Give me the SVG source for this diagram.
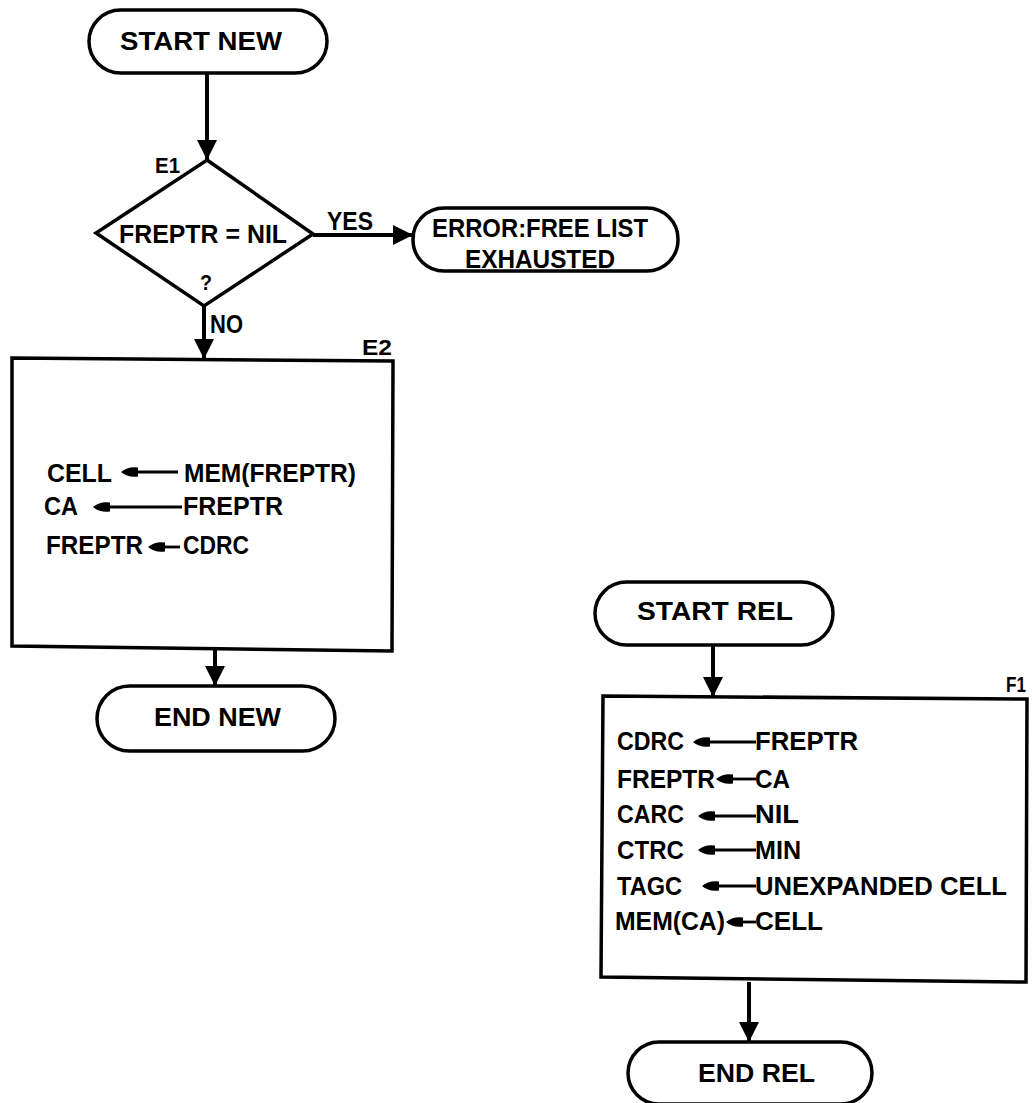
<svg xmlns="http://www.w3.org/2000/svg" width="1032" height="1103" viewBox="0 0 1032 1103">
<defs>
<style>
text{font-family:"Liberation Sans",Arial,sans-serif;font-weight:bold;font-size:25px;fill:#000}
.lbl{font-size:22px}
.shape{fill:#fff;stroke:#000;stroke-width:3.5}
.flow{stroke:#000;stroke-width:4;fill:none}
.asg{stroke:#000;stroke-width:2.8;fill:none}
.ah{fill:#000;stroke:none}
</style>
<marker id="arr" markerUnits="userSpaceOnUse" markerWidth="22" markerHeight="20" viewBox="0 0 22 20" refX="20" refY="10" orient="auto">
<path d="M0,0 L20,10 L0,20 Z" fill="#000"/>
</marker>
<path id="head" d="M0,0 Q7,-6 17,-4.5 L17,4.5 Q7,6 0,0 Z"/>
</defs>
<rect width="1032" height="1103" fill="#fff"/>
<g id="connectors">
<line class="flow" x1="207" y1="73" x2="207" y2="160" marker-end="url(#arr)"/>
<line class="flow" x1="313" y1="235" x2="413" y2="235" marker-end="url(#arr)"/>
<line class="flow" x1="204" y1="306" x2="204" y2="359" marker-end="url(#arr)"/>
<line class="flow" x1="215" y1="648" x2="215" y2="686" marker-end="url(#arr)"/>
<line class="flow" x1="713" y1="645" x2="713" y2="697" marker-end="url(#arr)"/>
<line class="flow" x1="749" y1="982" x2="749" y2="1042" marker-end="url(#arr)"/>
<text x="327" y="230" textLength="46" lengthAdjust="spacingAndGlyphs">YES</text>
<text x="210" y="333" textLength="33" lengthAdjust="spacingAndGlyphs">NO</text>
</g>
<g id="start-new">
<rect class="shape" x="89" y="10" width="238" height="63" rx="31.5"/>
<text x="120" y="50" textLength="162" lengthAdjust="spacingAndGlyphs">START NEW</text>
</g>
<g id="e1">
<polygon class="shape" points="207,160 313,234 204,306 96,233"/>
<text class="lbl" x="155" y="173" textLength="25" lengthAdjust="spacingAndGlyphs">E1</text>
<text x="119" y="243" textLength="168" lengthAdjust="spacingAndGlyphs">FREPTR = NIL</text>
<text class="lbl" x="200" y="290" textLength="12" lengthAdjust="spacingAndGlyphs">?</text>
</g>
<g id="error">
<rect class="shape" x="413" y="208" width="265" height="63" rx="31"/>
<text x="432" y="237" textLength="216" lengthAdjust="spacingAndGlyphs">ERROR:FREE LIST</text>
<text x="465" y="268" textLength="150" lengthAdjust="spacingAndGlyphs">EXHAUSTED</text>
</g>
<g id="e2">
<polygon class="shape" points="12,358 393,361 392,651 12,646"/>
<text class="lbl" x="362" y="355" textLength="30" lengthAdjust="spacingAndGlyphs">E2</text>
<text x="47" y="482" textLength="65" lengthAdjust="spacingAndGlyphs">CELL</text>
<line class="asg" x1="130" y1="472" x2="178" y2="472"/>
<use href="#head" class="ah" x="121" y="472"/>
<text x="184" y="482" textLength="172" lengthAdjust="spacingAndGlyphs">MEM(FREPTR)</text>
<text x="44" y="515" textLength="34" lengthAdjust="spacingAndGlyphs">CA</text>
<line class="asg" x1="102" y1="507" x2="182" y2="507"/>
<use href="#head" class="ah" x="93" y="507"/>
<text x="183" y="515" textLength="100" lengthAdjust="spacingAndGlyphs">FREPTR</text>
<text x="46" y="554" textLength="97" lengthAdjust="spacingAndGlyphs">FREPTR</text>
<line class="asg" x1="155" y1="547" x2="180" y2="547"/>
<use href="#head" class="ah" x="148" y="547"/>
<text x="183" y="554" textLength="66" lengthAdjust="spacingAndGlyphs">CDRC</text>
</g>
<g id="end-new">
<rect class="shape" x="97" y="686" width="238" height="65" rx="32.5"/>
<text x="154" y="726" textLength="127" lengthAdjust="spacingAndGlyphs">END NEW</text>
</g>
<g id="start-rel">
<rect class="shape" x="595" y="582" width="238" height="63" rx="31.5"/>
<text x="637" y="620" textLength="156" lengthAdjust="spacingAndGlyphs">START REL</text>
</g>
<g id="f1">
<polygon class="shape" points="603,696 1027,699 1026,982 601,977"/>
<text class="lbl" x="1006" y="692" textLength="20" lengthAdjust="spacingAndGlyphs">F1</text>
<text x="617" y="750" textLength="67" lengthAdjust="spacingAndGlyphs">CDRC</text>
<line class="asg" x1="702" y1="742" x2="756" y2="742"/>
<use href="#head" class="ah" x="693" y="742"/>
<text x="755" y="750" textLength="103" lengthAdjust="spacingAndGlyphs">FREPTR</text>
<text x="617" y="788" textLength="98" lengthAdjust="spacingAndGlyphs">FREPTR</text>
<line class="asg" x1="724" y1="779" x2="756" y2="779"/>
<use href="#head" class="ah" x="716" y="779"/>
<text x="755" y="788" textLength="35" lengthAdjust="spacingAndGlyphs">CA</text>
<text x="617" y="823" textLength="67" lengthAdjust="spacingAndGlyphs">CARC</text>
<line class="asg" x1="706" y1="816" x2="756" y2="816"/>
<use href="#head" class="ah" x="698" y="816"/>
<text x="755" y="823" textLength="44" lengthAdjust="spacingAndGlyphs">NIL</text>
<text x="617" y="859" textLength="67" lengthAdjust="spacingAndGlyphs">CTRC</text>
<line class="asg" x1="706" y1="850" x2="756" y2="850"/>
<use href="#head" class="ah" x="698" y="850"/>
<text x="755" y="859" textLength="46" lengthAdjust="spacingAndGlyphs">MIN</text>
<text x="617" y="895" textLength="65" lengthAdjust="spacingAndGlyphs">TAGC</text>
<line class="asg" x1="710" y1="886" x2="756" y2="886"/>
<use href="#head" class="ah" x="702" y="886"/>
<text x="755" y="895" textLength="252" lengthAdjust="spacingAndGlyphs">UNEXPANDED CELL</text>
<text x="615" y="930" textLength="110" lengthAdjust="spacingAndGlyphs">MEM(CA)</text>
<line class="asg" x1="733" y1="922" x2="756" y2="922"/>
<use href="#head" class="ah" x="726" y="922"/>
<text x="755" y="930" textLength="68" lengthAdjust="spacingAndGlyphs">CELL</text>
</g>
<g id="end-rel">
<rect class="shape" x="628" y="1042" width="244" height="62" rx="31"/>
<text x="698" y="1082" textLength="117" lengthAdjust="spacingAndGlyphs">END REL</text>
</g>
</svg>
